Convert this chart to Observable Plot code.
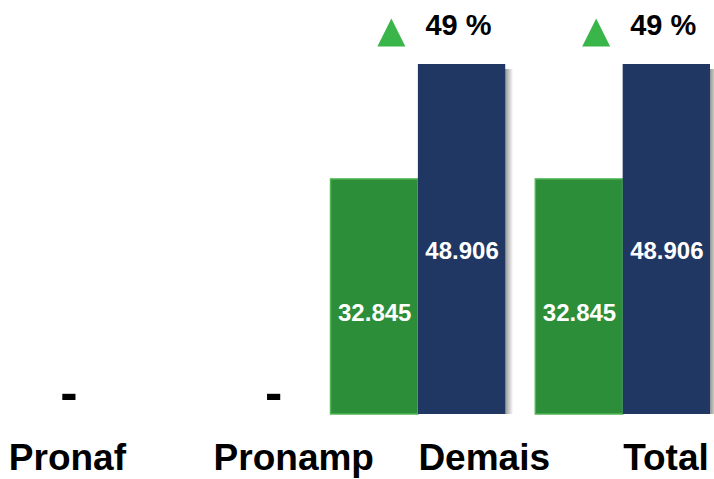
<!DOCTYPE html>
<html>
<head>
<meta charset="utf-8">
<script src="https://cdn.jsdelivr.net/npm/d3@7"></script>
<script src="https://cdn.jsdelivr.net/npm/@observablehq/plot@0.6"></script>
<style>
  html, body { margin: 0; padding: 0; background: #ffffff; }
  #chart svg { display: block; }
</style>
</head>
<body>
<div id="chart"></div>
<script>
// ---- Data ----
const categories = ["Pronaf", "Pronamp", "Demais", "Total"];
const seriesNames = ["Anterior", "Atual"];
const previousValues = [0, 0, 32845, 32845];
const currentValues = [0, 0, 48906, 48906];

// ---- Build rows ----
const rows = [];
categories.forEach((c, i) => {
  rows.push({category: c, series: seriesNames[0], value: previousValues[i]});
  rows.push({category: c, series: seriesNames[1], value: currentValues[i]});
});
const prevRows = rows.filter(d => d.series === seriesNames[0] && d.value > 0);
const currRows = rows.filter(d => d.series === seriesNames[1] && d.value > 0);
const zeroCats = categories
  .map((c, i) => ({category: c, value: 0, total: previousValues[i] + currentValues[i]}))
  .filter(d => d.total === 0);
const variation = categories
  .map((c, i) => ({category: c, value: currentValues[i], prev: previousValues[i]}))
  .filter(d => d.prev > 0)
  .map(d => ({...d, label: Math.round((d.value / d.prev - 1) * 100) + " %"}));

const fmt = d3.formatLocale({decimal: ",", thousands: ".", grouping: [3], currency: ["R$ ", ""]}).format(",d");

// ---- Layout ----
const W = 714, H = 479;
const xRange = [-79, 710];
const padInner = 0.147;
const band = d3.scaleBand().domain(categories).range(xRange).paddingInner(padInner).paddingOuter(0);
const half = band.bandwidth() / 2;

const font = "Liberation Sans, Arial, Helvetica, sans-serif";
const green = "#2d8e39";
const greenEdge = "#4fb553";
const navy = "#213763";
const triGreen = "#3ab54a";

const triangle = {
  draw(context) {
    context.moveTo(0, -14);
    context.lineTo(14, 14);
    context.lineTo(-14, 14);
    context.closePath();
  }
};

const svg = Plot.plot({
  width: W,
  height: H,
  marginTop: 64,
  marginBottom: 65,
  marginLeft: 0,
  marginRight: 4,
  style: {fontFamily: font, background: "#ffffff"},
  x: {type: "band", domain: categories, range: xRange, paddingInner: padInner, paddingOuter: 0, round: false, axis: null},
  y: {domain: [0, d3.max(currentValues)], axis: null},
  marks: [
    // shadow of navy bars
    Plot.barY(currRows, {x: "category", y: "value", insetLeft: half, insetTop: 5, dx: 8, fill: "url(#navyShadow)"}),
    // green bars
    Plot.barY(prevRows, {x: "category", y: "value", insetRight: half, fill: green, stroke: greenEdge, strokeWidth: 1.5}),
    // navy bars
    Plot.barY(currRows, {x: "category", y: "value", insetLeft: half, fill: navy}),
    // value labels
    Plot.text(prevRows, {x: "category", y: d => d.value / 2, text: d => fmt(d.value), dx: -half / 2, dy: 16,
      fill: "white", fontSize: 24, fontWeight: "bold", fontFamily: font}),
    Plot.text(currRows, {x: "category", y: d => d.value / 2, text: d => fmt(d.value), dx: half / 2, dy: 12,
      fill: "white", fontSize: 24, fontWeight: "bold", fontFamily: font}),
    // zero labels
    Plot.text(zeroCats, {x: "category", y: "value", text: () => "-", dx: 60, dy: -21,
      fill: "black", fontSize: 52, fontWeight: "bold", fontFamily: font}),
    // variation markers
    Plot.dot(variation, {x: "category", y: "value", symbol: triangle, fill: triGreen, stroke: "none", dx: -27, dy: -32}),
    Plot.text(variation, {x: "category", y: "value", text: "label", textAnchor: "start", dx: 7, dy: -39,
      fill: "black", fontSize: 29, fontWeight: "bold", fontFamily: font}),
    // category labels
    Plot.text(categories, {x: d => d, y: () => 0, text: d => d, textAnchor: "start", dx: 0, dy: 44,
      fill: "black", fontSize: 37, fontWeight: "bold", fontFamily: font})
  ]
});

// gradient definition for the bar shadow
const ns = "http://www.w3.org/2000/svg";
const defs = document.createElementNS(ns, "defs");
const grad = document.createElementNS(ns, "linearGradient");
grad.setAttribute("id", "navyShadow");
grad.setAttribute("x1", "0"); grad.setAttribute("x2", "1");
grad.setAttribute("y1", "0"); grad.setAttribute("y2", "0");
[[0, 0.45], [0.9, 0.45], [1, 0]].forEach(([o, a]) => {
  const s = document.createElementNS(ns, "stop");
  s.setAttribute("offset", o);
  s.setAttribute("stop-color", "#000");
  s.setAttribute("stop-opacity", a);
  grad.appendChild(s);
});
defs.appendChild(grad);
svg.insertBefore(defs, svg.firstChild);

document.getElementById("chart").appendChild(svg);
</script>
</body>
</html>
